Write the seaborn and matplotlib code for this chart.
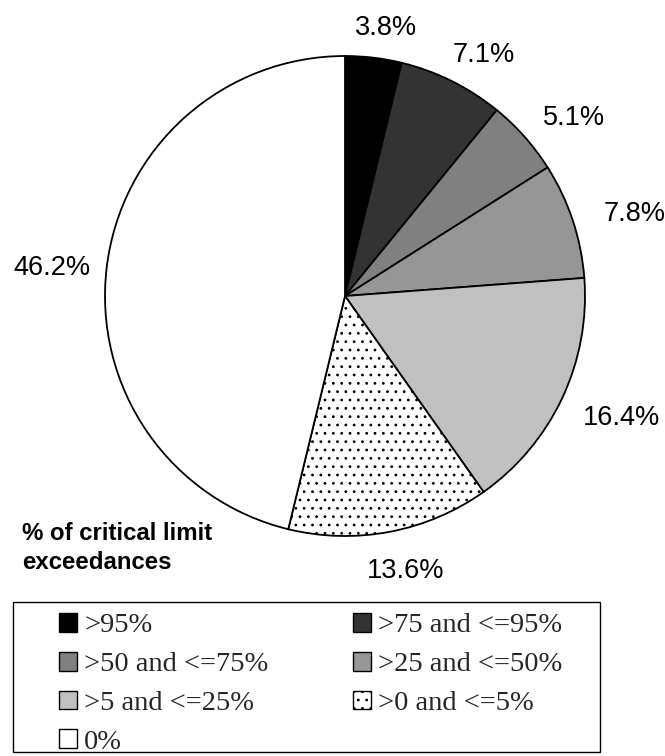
import numpy as np
import matplotlib
matplotlib.use("Agg")
import matplotlib.pyplot as plt
from matplotlib.patches import Rectangle
import seaborn as sns

# Share of sites by critical limit exceedance class
categories = [">95%", ">75 and <=95%", ">50 and <=75%", ">25 and <=50%",
              ">5 and <=25%", ">0 and <=5%", "0%"]
shares = [3.8, 7.1, 5.1, 7.8, 16.4, 13.6, 46.2]
fills = ["#000000", "#333333", "#808080", "#969696", "#c0c0c0", "#ffffff", "#ffffff"]
hatches = [None, None, None, None, None, "..", None]

sns.set_theme(style="white")
plt.rcParams["font.family"] = ["Liberation Sans", "DejaVu Sans"]
plt.rcParams["hatch.color"] = "#555555"
plt.rcParams["hatch.linewidth"] = 0.8

W, H = 665, 756
fig = plt.figure(figsize=(W / 100, H / 100), dpi=100)
fig.patch.set_facecolor("white")

cx, cy, R = 345, 296, 240
ax = fig.add_axes([(cx - R) / W, (H - cy - R) / H, 2 * R / W, 2 * R / H])

wedges, _ = ax.pie(shares, colors=fills, startangle=90, counterclock=False,
                   wedgeprops=dict(edgecolor="black", linewidth=1.3))
for w, h in zip(wedges, hatches):
    if h:
        w.set_hatch(h)
ax.set_xlim(-1, 1)
ax.set_ylim(-1, 1)
ax.set_aspect("equal")
ax.axis("off")

# Percentage labels just outside each slice; the label box is pushed
# outward by half its width/height along the slice direction
for w, v in zip(wedges, shares):
    mid = np.deg2rad((w.theta1 + w.theta2) / 2)
    ax.text(1.25 * np.cos(mid) + 0.02, 1.145 * np.sin(mid) - 0.02, f"{v:.1f}%",
            ha="center", va="center", fontsize=19.5, color="black")

fig.text(22 / W, 1 - 522 / H, "% of critical limit\nexceedances",
         ha="left", va="top", fontsize=17.3, fontweight="bold",
         linespacing=1.33, color="black")

# Legend box
fig.add_artist(Rectangle((13 / W, 1 - 752 / H), (600 - 13) / W, (752 - 602) / H,
                         transform=fig.transFigure, facecolor="none",
                         edgecolor="black", linewidth=1.0))

order = [0, 2, 4, 6, 1, 3, 5]
leg = fig.legend([wedges[i] for i in order], [categories[i] for i in order],
                 ncol=2, loc="upper left", bbox_to_anchor=(59 / W, 1 - 613 / H),
                 frameon=False, borderpad=0, borderaxespad=0,
                 handlelength=0.64, handleheight=0.64,
                 handletextpad=0.25, labelspacing=0.47, columnspacing=2.95,
                 prop=dict(family="Liberation Serif", size=20.5))
for hnd in leg.legend_handles:
    hnd.set_linewidth(1.0)

fig.savefig("out.png", dpi=100, facecolor="white")
